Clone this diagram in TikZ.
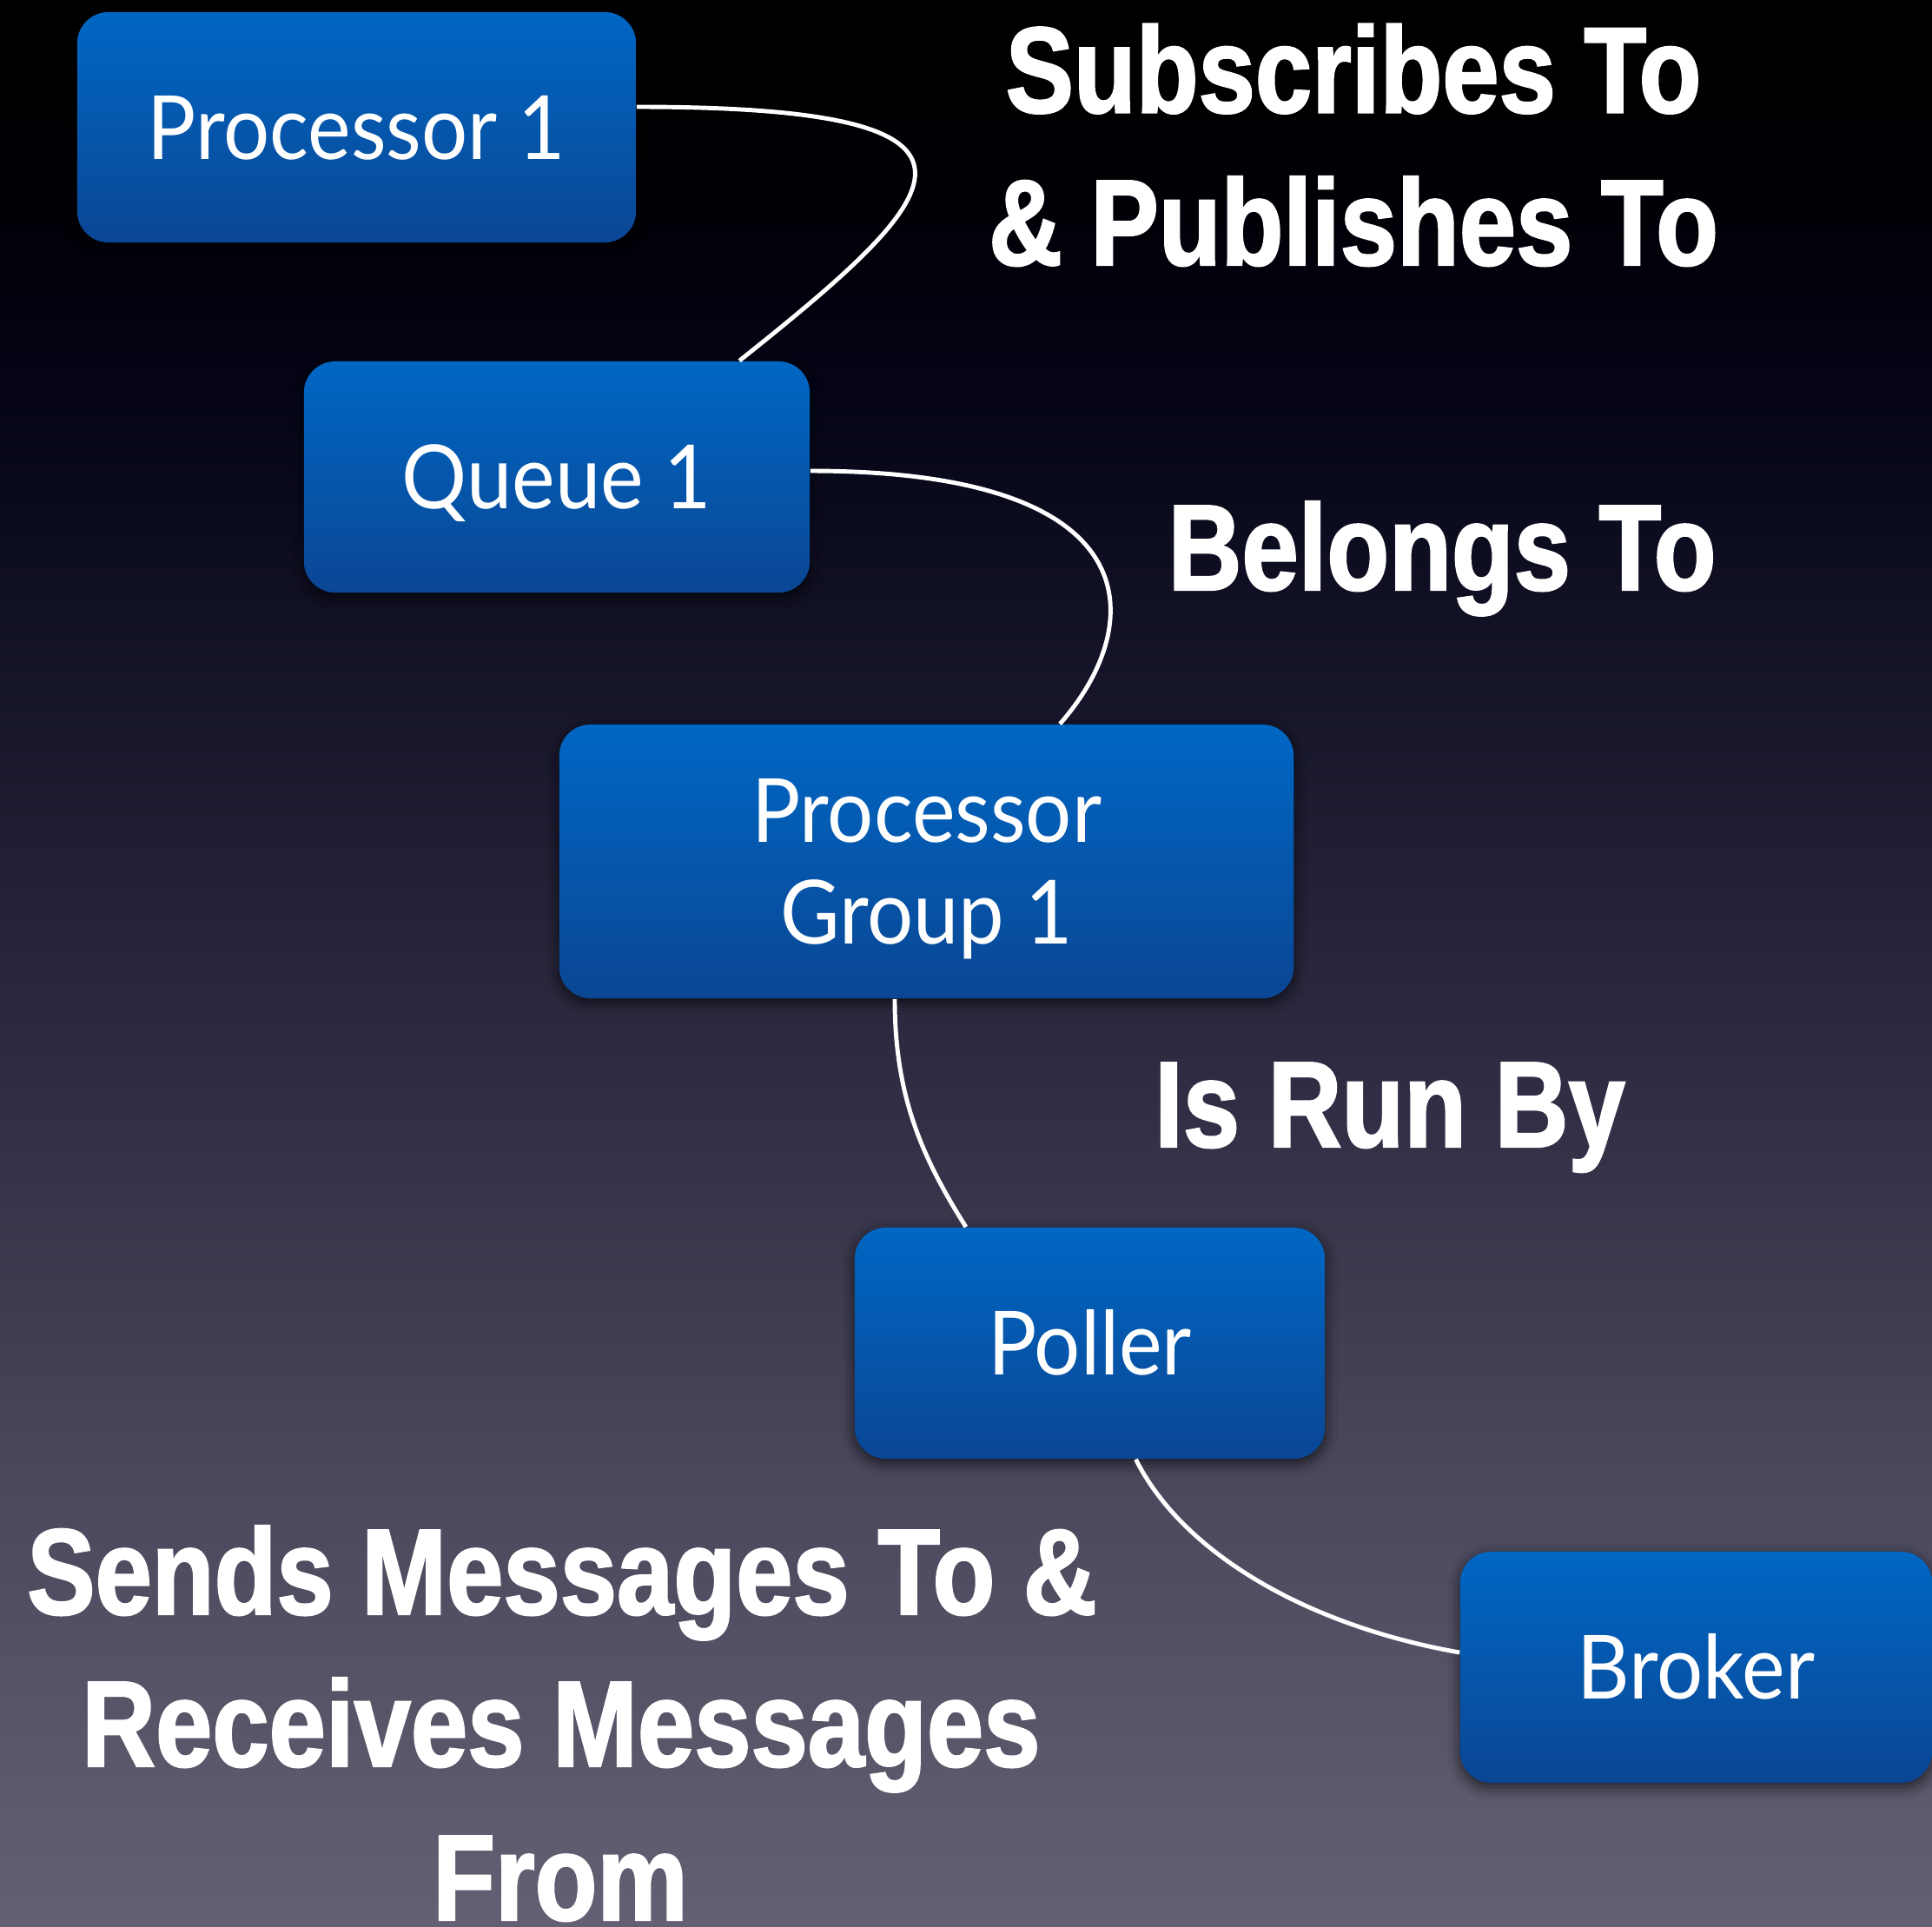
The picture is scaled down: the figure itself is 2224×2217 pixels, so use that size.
\documentclass[tikz,border=0pt]{standalone}
\usepackage{fontspec}
\usetikzlibrary{shadows.blur}
\newfontfamily\boxfont{Lato}[FakeStretch=0.92]
\newfontfamily\labelfont{Liberation Sans}[FakeStretch=0.835, FakeBold=1.6]

% backdrop: grey-violet at the bottom fading to black at the top
% (a path is filled by the 25bp..75bp band of a shading)
\definecolor{bg0}{RGB}{98,96,114}
\definecolor{bg1}{RGB}{74,72,92}
\definecolor{bg2}{RGB}{48,46,68}
\definecolor{bg3}{RGB}{24,23,44}
\definecolor{bg4}{RGB}{4,4,22}
\definecolor{bg5}{RGB}{0,0,6}
\definecolor{bg6}{RGB}{0,0,0}
\pgfdeclareverticalshading{backdrop}{100bp}{color(0bp)=(bg0); color(25bp)=(bg0); color(36.5bp)=(bg1); color(46.5bp)=(bg2); color(56bp)=(bg3); color(65bp)=(bg4); color(69.5bp)=(bg5); color(75bp)=(bg6); color(100bp)=(bg6)}

% box fill
\definecolor{boxtop}{RGB}{0,103,196}
\definecolor{boxmid}{RGB}{3,88,172}
\definecolor{boxbot}{RGB}{10,70,148}

\begin{document}
\begin{tikzpicture}[x=0.01cm, y=-0.01cm,
  box/.style={rounded corners=0.36cm, top color=boxtop, middle color=boxmid, bottom color=boxbot,
    inner sep=0pt, text=white, align=center,
    font=\boxfont\fontsize{29}{33.3}\selectfont, text height=20.8pt, text depth=0pt,
    blur shadow={shadow xshift=0pt, shadow yshift=-0.05cm, shadow blur radius=0.14cm, shadow opacity=65}},
  link/.style={draw=white, line width=1.4pt},
  lbl/.style={text=white, inner sep=0pt, anchor=base,
    font=\labelfont\bfseries\fontsize{40}{48}\selectfont}]

  % page and backdrop
  \useasboundingbox (0,0) rectangle (2224,2217);
  \shade[shading=backdrop] (0,0) rectangle (2224,2217);

  % entities
  \node[box, minimum width=6.43cm, minimum height=2.65cm] (p1) at (410.5,146.5) {Processor 1};
  \node[box, minimum width=5.82cm, minimum height=2.66cm] (q1) at (641,549) {Queue 1};
  \node[box, minimum width=8.45cm, minimum height=3.15cm, text height=54.1pt] (pg) at (1066.5,991.5) {Processor\\Group 1};
  \node[box, minimum width=5.41cm, minimum height=2.66cm] (poller) at (1254.5,1546) {Poller};
  \node[box, minimum width=5.43cm, minimum height=2.66cm] (broker) at (1952.5,1919) {Broker};

  % relations
  \draw[link] ([yshift=0.235cm]p1.east) .. controls (1191,123) and (1090,225) .. ([xshift=2.1cm]q1.north);
  \draw[link] ([yshift=0.07cm]q1.east) .. controls (1330,542) and (1320,720) .. ([xshift=1.535cm]pg.north);
  \draw[link] ([xshift=-0.365cm]pg.south) .. controls (1030,1260) and (1060,1330) .. ([xshift=-1.425cm]poller.north);
  \draw[link] ([xshift=0.53cm]poller.south) .. controls (1360,1785) and (1500,1870) .. ([yshift=0.17cm]broker.west);

  % relation captions
  \node[lbl] (subA) at (1558,129.5) {Subscribes To};
  \node[lbl] (subB) at (1558,305) {\& Publishes To};
  \node[lbl] (belongs) at (1660,679) {Belongs To};
  \node[lbl] (runby) at (1600,1320) {Is Run By};
  \node[lbl] (sendA) at (647,1858) {Sends Messages To \&};
  \node[lbl] (sendB) at (646,2033) {Receives Messages};
  \node[lbl] (sendC) at (645,2210) {From};
\end{tikzpicture}
\end{document}
